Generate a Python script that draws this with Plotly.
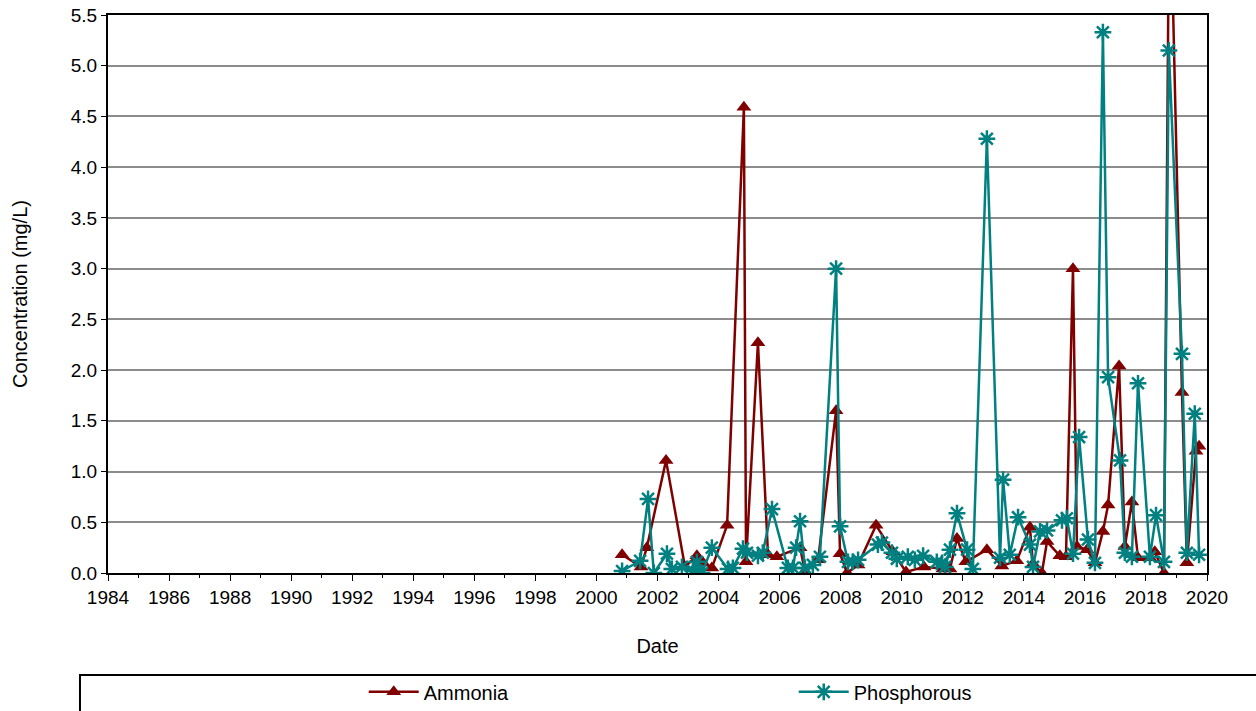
import plotly.graph_objects as go

# Ammonia: decimal year, concentration (mg/L)
ammonia_year = [2000.84, 2001.46, 2001.65, 2002.28, 2002.90, 2003.29, 2003.49, 2003.78, 2004.28,
                2004.83, 2004.90, 2005.29, 2005.62, 2005.91, 2006.67, 2006.83, 2007.26, 2007.85,
                2007.98, 2008.21, 2008.57, 2009.16, 2009.71, 2010.14, 2010.73, 2011.35, 2011.58,
                2011.81, 2012.10, 2012.79, 2013.28, 2013.77, 2014.20, 2014.30, 2014.59, 2014.76,
                2015.18, 2015.38, 2015.61, 2015.74, 2016.07, 2016.33, 2016.59, 2016.76, 2017.12,
                2017.31, 2017.54, 2017.74, 2018.13, 2018.29, 2018.59, 2018.77, 2019.18, 2019.34,
                2019.64, 2019.74]
ammonia_val = [0.18, 0.06, 0.25, 1.11, 0.06, 0.17, 0.10, 0.05, 0.47,
               4.59, 0.11, 2.27, 0.18, 0.16, 0.25, 0.02, 0.13, 1.60,
               0.19, 0.00, 0.08, 0.47, 0.21, 0.01, 0.06, 0.04, 0.04,
               0.34, 0.11, 0.23, 0.07, 0.12, 0.45, 0.09, 0.00, 0.31,
               0.17, 0.16, 3.00, 0.26, 0.23, 0.10, 0.41, 0.67, 2.04,
               0.26, 0.70, 0.15, 0.15, 0.21, 0.00, 7.10, 1.78, 0.10,
               1.20, 1.25]

# Phosphorous: decimal year, concentration (mg/L)
phos_year = [2000.84, 2001.43, 2001.69, 2001.88, 2002.31, 2002.47, 2002.80, 2003.16, 2003.29,
             2003.46, 2003.78, 2004.31, 2004.47, 2004.80, 2004.93, 2005.29, 2005.45, 2005.75,
             2006.27, 2006.44, 2006.54, 2006.67, 2006.83, 2007.09, 2007.32, 2007.85, 2007.98,
             2008.24, 2008.40, 2008.57, 2009.22, 2009.35, 2009.68, 2009.84, 2010.20, 2010.43,
             2010.70, 2011.15, 2011.32, 2011.42, 2011.58, 2011.81, 2012.14, 2012.33, 2012.79,
             2013.22, 2013.32, 2013.54, 2013.81, 2014.20, 2014.30, 2014.53, 2014.76, 2015.25,
             2015.41, 2015.61, 2015.81, 2016.10, 2016.33, 2016.59, 2016.76, 2017.15, 2017.31,
             2017.54, 2017.74, 2018.13, 2018.33, 2018.59, 2018.75, 2019.18, 2019.34, 2019.60,
             2019.74]
phos_val = [0.02, 0.12, 0.73, 0.00, 0.19, 0.04, 0.06, 0.02, 0.11,
            0.00, 0.25, 0.04, 0.05, 0.24, 0.20, 0.17, 0.20, 0.63,
            0.05, 0.05, 0.25, 0.51, 0.05, 0.08, 0.16, 3.00, 0.46,
            0.11, 0.11, 0.13, 0.28, 0.30, 0.20, 0.14, 0.16, 0.13,
            0.17, 0.11, 0.10, 0.06, 0.23, 0.59, 0.23, 0.04, 4.28,
            0.15, 0.92, 0.18, 0.55, 0.28, 0.06, 0.41, 0.42, 0.52,
            0.54, 0.19, 1.34, 0.33, 0.10, 5.33, 1.93, 1.11, 0.20,
            0.16, 1.87, 0.16, 0.57, 0.11, 5.15, 2.16, 0.20, 1.57,
            0.18]

x_ticks = list(range(1984, 2021, 2))
y_ticks = [i * 0.5 for i in range(12)]

FONT = "Arial, Liberation Sans, sans-serif"
RED = "#800000"
TEAL = "#008080"

fig = go.Figure()
fig.add_trace(go.Scatter(
    x=ammonia_year, y=ammonia_val, mode="lines+markers", name="Ammonia",
    line=dict(color=RED, width=2.5),
    marker=dict(symbol="triangle-up", size=13, color=RED),
))
fig.add_trace(go.Scatter(
    x=phos_year, y=phos_val, mode="lines+markers", name="Phosphorous",
    line=dict(color=TEAL, width=2.5),
    marker=dict(symbol="asterisk-open", size=14, color=TEAL, line=dict(color=TEAL, width=2.5)),
))

fig.update_layout(
    width=1256, height=711,
    margin=dict(l=108, r=49, t=15, b=138, autoexpand=False),
    paper_bgcolor="white", plot_bgcolor="white",
    font=dict(family=FONT, size=19, color="black"),
    showlegend=True,
    legend=dict(orientation="h", x=0.2327, xanchor="left", y=-0.213, yanchor="middle",
                bgcolor="rgba(0,0,0,0)", borderwidth=0, entrywidth=365, itemwidth=50,
                font=dict(family=FONT, size=20, color="black")),
    shapes=[dict(type="rect", xref="paper", yref="paper",
                 x0=-0.0255, x1=1.06, y0=-0.183, y1=-0.27,
                 line=dict(color="black", width=2), fillcolor="rgba(0,0,0,0)", layer="below")],
)

fig.update_xaxes(
    range=[1984, 2020], tickvals=x_ticks, ticktext=[str(v) for v in x_ticks],
    showgrid=False, zeroline=False, automargin=False,
    showline=True, linecolor="black", linewidth=2, mirror=True,
    ticks="outside", ticklen=6, tickcolor="black", tickwidth=1,
    minor=dict(dtick=1, ticks="outside", ticklen=3, tickcolor="black", showgrid=False),
    title=dict(text="Date", standoff=32, font=dict(family=FONT, size=20)),
    tickfont=dict(family=FONT, size=19),
)
fig.update_yaxes(
    range=[0, 5.5], tickvals=y_ticks, ticktext=[f"{v:.1f}" for v in y_ticks],
    showgrid=True, gridcolor="#8c8c8c", gridwidth=2, zeroline=False, automargin=False,
    showline=True, linecolor="black", linewidth=2, mirror=True,
    ticks="outside", ticklen=5, tickcolor="black", tickwidth=1,
    title=dict(text="Concentration (mg/L)", standoff=38, font=dict(family=FONT, size=20)),
    tickfont=dict(family=FONT, size=19),
)

fig.write_html("out.html")
